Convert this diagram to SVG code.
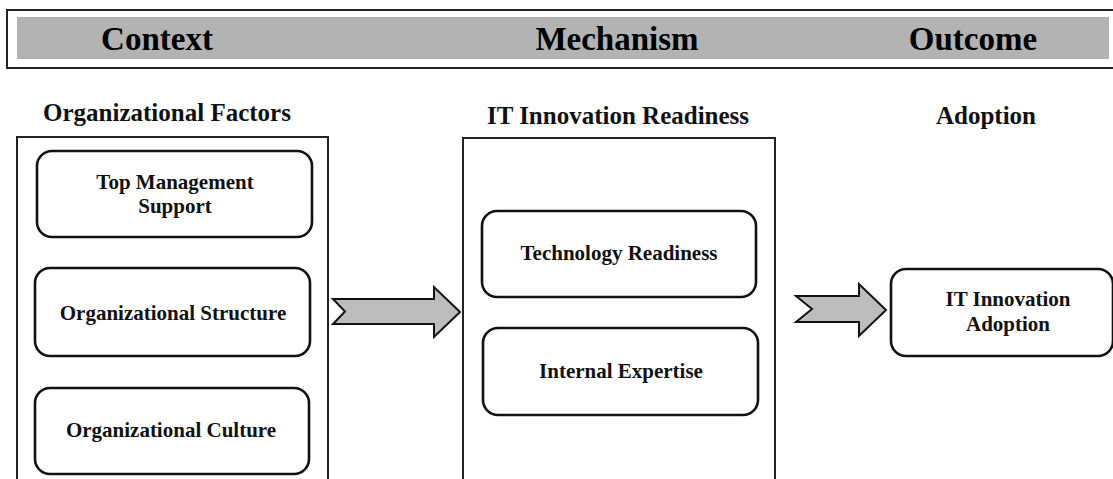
<svg xmlns="http://www.w3.org/2000/svg" width="1113" height="479" viewBox="0 0 1113 479">
<style>
.hdr{font-family:"Liberation Serif","Times New Roman",serif;font-weight:bold;font-size:33px;fill:#000;text-anchor:middle}
.col{font-family:"Liberation Serif","Times New Roman",serif;font-weight:bold;font-size:25px;fill:#111;text-anchor:middle}
.lbl{font-family:"Liberation Serif","Times New Roman",serif;font-weight:bold;font-size:21px;fill:#111;text-anchor:middle}
.cont{fill:#fff;stroke:#222;stroke-width:2}
.box{fill:#fff;stroke:#111;stroke-width:2.6}
.arr{fill:#bdbdbd;stroke:#111;stroke-width:2;stroke-linejoin:miter}
</style>
<rect width="1113" height="479" fill="#fff"/>
<g id="header">
<rect x="7" y="10" width="1120" height="58" fill="#fff" stroke="#222" stroke-width="2"/>
<rect x="17" y="17" width="1092" height="42" fill="#b3b3b3"/>
<text class="hdr" x="157" y="50">Context</text>
<text class="hdr" x="617" y="50">Mechanism</text>
<text class="hdr" x="973" y="50">Outcome</text>
</g>
<g id="org-factors">
<text class="col" x="167" y="121">Organizational Factors</text>
<rect class="cont" x="17" y="137" width="311" height="360"/>
</g>
<g id="top-mgmt">
<rect class="box" x="37" y="151" width="275" height="86" rx="15"/>
<text class="lbl" x="175" y="189">Top Management</text>
<text class="lbl" x="175" y="213">Support</text>
</g>
<g id="org-structure">
<rect class="box" x="35" y="268" width="275" height="88" rx="15"/>
<text class="lbl" x="173" y="320">Organizational Structure</text>
</g>
<g id="org-culture">
<rect class="box" x="35" y="388" width="274" height="86" rx="15"/>
<text class="lbl" x="171" y="437">Organizational Culture</text>
</g>
<g id="it-readiness">
<text class="col" x="618" y="124">IT Innovation Readiness</text>
<rect class="cont" x="463" y="138" width="312" height="360"/>
</g>
<g id="tech-readiness">
<rect class="box" x="482" y="211" width="274" height="86" rx="15"/>
<text class="lbl" x="619" y="260">Technology Readiness</text>
</g>
<g id="internal-expertise">
<rect class="box" x="483" y="328" width="275" height="87" rx="15"/>
<text class="lbl" x="621" y="378">Internal Expertise</text>
</g>
<g id="adoption-heading">
<text class="col" x="986" y="124">Adoption</text>
</g>
<g id="it-adoption">
<rect class="box" x="891" y="269" width="222" height="87" rx="15"/>
<text class="lbl" x="1008" y="306">IT Innovation</text>
<text class="lbl" x="1008" y="331">Adoption</text>
</g>
<g id="connectors">
<polygon class="arr" points="333,299 434,299 434,287 460,312 434,337 434,324 333,324 345,311.5"/>
<polygon class="arr" points="796,296 859,296 859,284 886,310 859,336 859,322 796,322 812,309"/>
</g>
</svg>
